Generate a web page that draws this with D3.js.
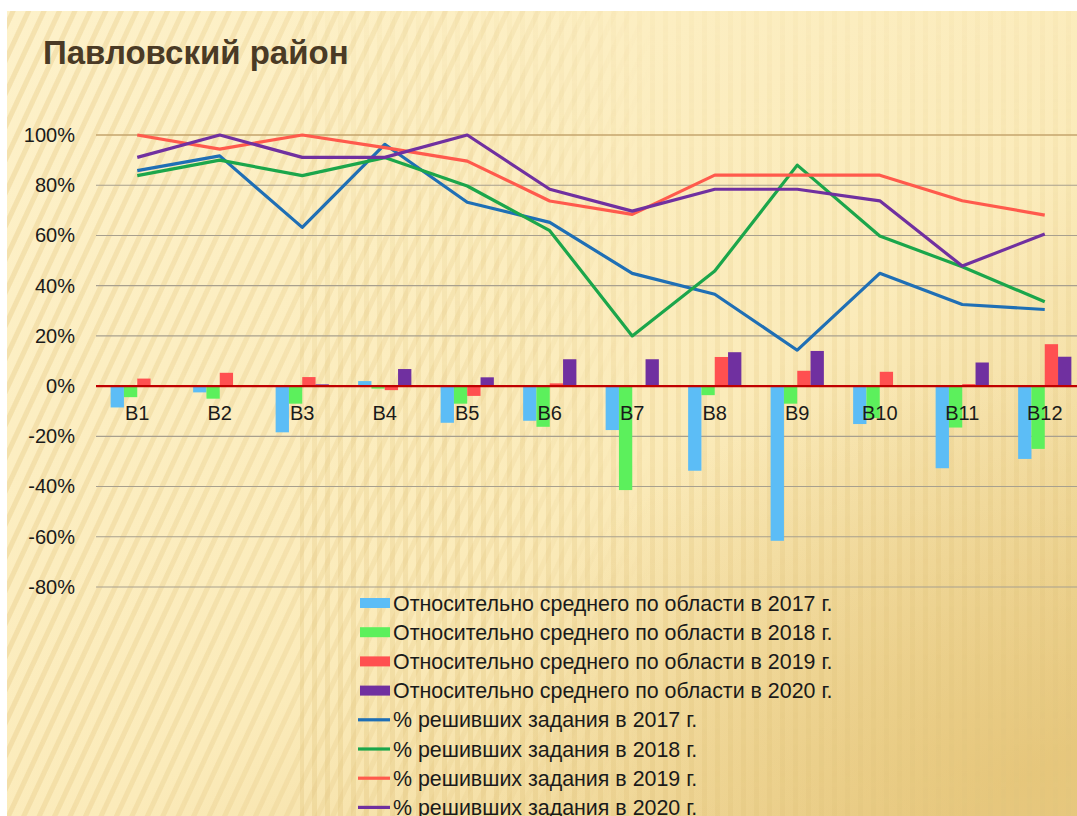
<!DOCTYPE html>
<html>
<head>
<meta charset="utf-8">
<script src="https://cdn.jsdelivr.net/npm/d3@7"></script>
<style>
  body { margin: 0; background: #fff; }
  svg { display: block; font-family: "Liberation Sans", Arial, sans-serif; }
</style>
</head>
<body>
<svg id="chart" width="1077" height="816"></svg>
<script>
// categories (task numbers)
const categories = ["B1", "B2", "B3", "B4", "B5", "B6", "B7", "B8", "B9", "B10", "B11", "B12"];

// bars: relative to region average, %
const rel2017 = [-8.5, -2.5, -18.4, 2, -14.6, -13.8, -17.5, -33.7, -61.6, -15.1, -32.7, -29];
const rel2018 = [-4.4, -5, -7, -1, -7, -16.2, -41.4, -3.6, -7, -12.7, -16.5, -25];
const rel2019 = [3, 5.3, 3.6, -1.6, -3.9, 1.1, 0, 11.6, 6.1, 5.7, 0.8, 16.7];
const rel2020 = [0, 0, 0.7, 6.8, 3.5, 10.7, 10.7, 13.5, 14, 0, 9.4, 11.7];

// lines: % solved
const solved2017 = [85.8, 91.7, 63.2, 96.3, 73.2, 65.2, 44.9, 36.6, 14.3, 44.9, 32.5, 30.5];
const solved2018 = [83.8, 90, 83.8, 91, 79.7, 61.9, 20, 45.8, 88, 59.8, 47.5, 33.6];
const solved2019 = [100, 94.4, 100, 95, 89.6, 73.7, 68.4, 84, 84, 84, 73.8, 68.1];
const solved2020 = [91.1, 100, 91.1, 91.1, 100, 78.4, 69.7, 78.4, 78.4, 73.8, 47.8, 60.6];

const yTicks = [100, 80, 60, 40, 20, 0, -20, -40, -60, -80];

const barSeries = [
  { name: "Относительно среднего по области в 2017 г.", values: rel2017, color: "#5cbdf6" },
  { name: "Относительно среднего по области в 2018 г.", values: rel2018, color: "#5cf05c" },
  { name: "Относительно среднего по области в 2019 г.", values: rel2019, color: "#ff5050" },
  { name: "Относительно среднего по области в 2020 г.", values: rel2020, color: "#7030a0" }
];
const lineSeries = [
  { name: "% решивших задания в 2017 г.", values: solved2017, color: "#1f6fb5" },
  { name: "% решивших задания в 2018 г.", values: solved2018, color: "#1ba64b" },
  { name: "% решивших задания в 2019 г.", values: solved2019, color: "#ff5a4c" },
  { name: "% решивших задания в 2020 г.", values: solved2020, color: "#7030a0" }
];

const svg = d3.select("#chart");
const W = 1077, H = 816;

// ---- slide background ----
const defs = svg.append("defs");
const bg = defs.append("linearGradient").attr("id", "bg")
  .attr("x1", "0").attr("y1", "0").attr("x2", "0.9").attr("y2", "1");
bg.append("stop").attr("offset", "0").attr("stop-color", "#fdf1c9");
bg.append("stop").attr("offset", "0.6").attr("stop-color", "#fbebba");
bg.append("stop").attr("offset", "1").attr("stop-color", "#ecd08c");

const glow = defs.append("radialGradient").attr("id", "glow")
  .attr("cx", "0.95").attr("cy", "0.95").attr("r", "0.5");
glow.append("stop").attr("offset", "0").attr("stop-color", "#deba66").attr("stop-opacity", 0.45);
glow.append("stop").attr("offset", "1").attr("stop-color", "#deba66").attr("stop-opacity", 0);

const diag = defs.append("pattern").attr("id", "diag")
  .attr("width", 14).attr("height", 14).attr("patternUnits", "userSpaceOnUse")
  .attr("patternTransform", "rotate(25)");
diag.append("rect").attr("width", 5).attr("height", 14).attr("fill", "#e9cf8e").attr("opacity", 0.45);

const vert = defs.append("pattern").attr("id", "vert")
  .attr("width", 13).attr("height", 20).attr("patternUnits", "userSpaceOnUse");
vert.append("rect").attr("width", 5).attr("height", 20).attr("fill", "#e2c47e").attr("opacity", 0.35);

const fadeL = defs.append("linearGradient").attr("id", "fadeL");
fadeL.append("stop").attr("offset", "0").attr("stop-color", "#fff").attr("stop-opacity", 1);
fadeL.append("stop").attr("offset", "0.45").attr("stop-color", "#fff").attr("stop-opacity", 0.6);
fadeL.append("stop").attr("offset", "0.6").attr("stop-color", "#fff").attr("stop-opacity", 0);
defs.append("mask").attr("id", "maskL").append("rect")
  .attr("x", 7).attr("y", 11).attr("width", W).attr("height", H).attr("fill", "url(#fadeL)");

const fadeV = defs.append("linearGradient").attr("id", "fadeV")
  .attr("x1", "0").attr("y1", "0").attr("x2", "0").attr("y2", "1");
fadeV.append("stop").attr("offset", "0").attr("stop-color", "#fff").attr("stop-opacity", 0.2);
fadeV.append("stop").attr("offset", "0.5").attr("stop-color", "#fff").attr("stop-opacity", 0.7);
fadeV.append("stop").attr("offset", "1").attr("stop-color", "#fff").attr("stop-opacity", 1);
defs.append("mask").attr("id", "maskV").append("rect")
  .attr("x", 300).attr("y", 11).attr("width", W).attr("height", H).attr("fill", "url(#fadeV)");

svg.append("rect").attr("x", 7).attr("y", 11).attr("width", W - 7).attr("height", H - 11).attr("fill", "url(#bg)");
svg.append("rect").attr("x", 7).attr("y", 11).attr("width", W - 7).attr("height", H - 11).attr("fill", "url(#glow)");
svg.append("rect").attr("x", 7).attr("y", 11).attr("width", W - 7).attr("height", H - 11)
  .attr("fill", "url(#diag)").attr("mask", "url(#maskL)");
svg.append("rect").attr("x", 300).attr("y", 11).attr("width", W - 300).attr("height", H - 11)
  .attr("fill", "url(#vert)").attr("mask", "url(#maskV)");

// ---- title ----
svg.append("text")
  .attr("x", 43).attr("y", 64)
  .attr("font-size", 33).attr("font-weight", "bold")
  .attr("fill", "#4a3a25")
  .text("Павловский район");

// ---- scales ----
const x = d3.scaleBand().domain(categories).range([96, 1086]);
const xSub = d3.scaleBand().domain(d3.range(barSeries.length))
  .range([0, x.bandwidth()]).paddingOuter(1.1);
const y = d3.scaleLinear().domain([-80, 100]).range([587, 135]);

// gridlines
svg.append("g")
  .selectAll("line")
  .data(yTicks.filter(d => d !== 0))
  .join("line")
  .attr("x1", 96).attr("x2", W)
  .attr("y1", d => y(d)).attr("y2", d => y(d))
  .attr("stroke", d => d === 100 ? "#c4a46c" : "#a8a08e")
  .attr("stroke-width", d => d === 100 ? 1.6 : 1.1);

// y axis labels
const yAxis = d3.axisLeft(y).tickValues(yTicks).tickSize(0).tickPadding(0)
  .tickFormat(d => d + "%");
const gy = svg.append("g").attr("transform", "translate(75,0)").call(yAxis);
gy.select(".domain").remove();
gy.selectAll("text").attr("font-size", 20).attr("fill", "#1a1a1a")
  .attr("font-family", "'Liberation Sans', Arial, sans-serif");

// bars
barSeries.forEach((s, i) => {
  svg.append("g")
    .selectAll("rect")
    .data(s.values)
    .join("rect")
    .attr("x", (d, j) => x(categories[j]) + xSub(i))
    .attr("width", xSub.bandwidth())
    .attr("y", d => y(Math.max(0, d)))
    .attr("height", d => Math.abs(y(d) - y(0)))
    .attr("fill", s.color);
});

// zero line
svg.append("line")
  .attr("x1", 96).attr("x2", W)
  .attr("y1", y(0)).attr("y2", y(0))
  .attr("stroke", "#c00000").attr("stroke-width", 2.2);

// category labels
svg.append("g")
  .selectAll("text")
  .data(categories)
  .join("text")
  .attr("x", d => x(d) + x.bandwidth() / 2)
  .attr("y", y(0) + 34)
  .attr("text-anchor", "middle")
  .attr("font-size", 20).attr("fill", "#1a1a1a")
  .text(d => d);

// lines
const line = d3.line()
  .x((d, j) => x(categories[j]) + x.bandwidth() / 2)
  .y(d => y(d));
lineSeries.forEach(s => {
  svg.append("path")
    .datum(s.values)
    .attr("d", line)
    .attr("fill", "none")
    .attr("stroke", s.color)
    .attr("stroke-width", 3.2)
    .attr("stroke-linejoin", "round");
});

// legend
const legend = svg.append("g").attr("transform", "translate(358,603)");
const rowH = 29.2;
barSeries.forEach((s, i) => {
  const g = legend.append("g").attr("transform", `translate(0,${i * rowH})`);
  g.append("rect").attr("x", 2).attr("y", -5).attr("width", 30).attr("height", 10).attr("fill", s.color);
  g.append("text").attr("x", 35).attr("y", 7.5).attr("font-size", 21.4).attr("fill", "#1a1a1a").text(s.name);
});
lineSeries.forEach((s, i) => {
  const g = legend.append("g").attr("transform", `translate(0,${(i + 4) * rowH})`);
  g.append("line").attr("x1", 0).attr("x2", 32).attr("y1", 0).attr("y2", 0)
    .attr("stroke", s.color).attr("stroke-width", 3.2);
  g.append("text").attr("x", 35).attr("y", 7.5).attr("font-size", 21.4).attr("fill", "#1a1a1a").text(s.name);
});
</script>
</body>
</html>
